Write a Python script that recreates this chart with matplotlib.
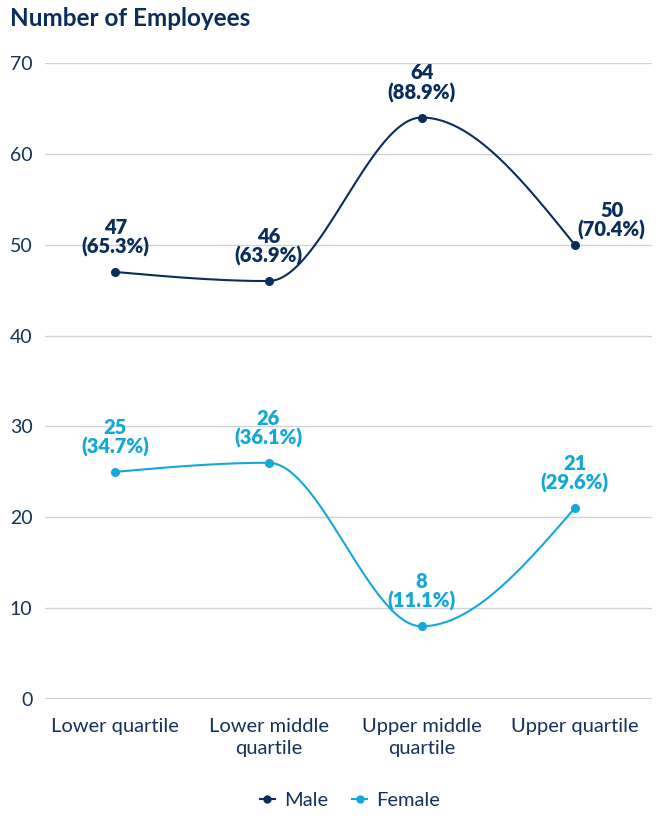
import numpy as np
import matplotlib
matplotlib.use("Agg")
import matplotlib.pyplot as plt
from matplotlib.lines import Line2D

plt.rcParams['font.family'] = ['Lato', 'DejaVu Sans']

categories = ["Lower quartile", "Lower middle\nquartile", "Upper middle\nquartile", "Upper quartile"]
male = [47, 46, 64, 50]
female = [25, 26, 8, 21]
male_pct = ["65.3%", "63.9%", "88.9%", "70.4%"]
female_pct = ["34.7%", "36.1%", "11.1%", "29.6%"]
yticks = [0, 10, 20, 30, 40, 50, 60, 70]

MALE_C = "#0b2d5c"
FEMALE_C = "#14a8d8"
TEXT_C = "#16325c"


def monotone_x(xs, ys, n=60):
    xs = np.asarray(xs, float); ys = np.asarray(ys, float)
    m = len(xs)
    h = np.diff(xs); s = np.diff(ys) / h
    t = np.zeros(m)
    for i in range(1, m - 1):
        p = (s[i-1] * h[i] + s[i] * h[i-1]) / (h[i-1] + h[i])
        t[i] = (np.sign(s[i-1]) + np.sign(s[i])) * min(abs(s[i-1]), abs(s[i]), 0.5 * abs(p))
    t[0] = (3 * s[0] - t[1]) / 2
    t[-1] = (3 * s[-1] - t[-2]) / 2
    X, Y = [], []
    u = np.linspace(0, 1, n)
    for i in range(m - 1):
        dx = h[i] / 3
        P0 = np.array([xs[i], ys[i]])
        P1 = np.array([xs[i] + dx, ys[i] + dx * t[i]])
        P2 = np.array([xs[i+1] - dx, ys[i+1] - dx * t[i+1]])
        P3 = np.array([xs[i+1], ys[i+1]])
        B = ((1-u)**3)[:, None] * P0 + (3*(1-u)**2*u)[:, None] * P1 + (3*(1-u)*u**2)[:, None] * P2 + (u**3)[:, None] * P3
        X.extend(B[:, 0]); Y.extend(B[:, 1])
    return np.array(X), np.array(Y)


fig = plt.figure(figsize=(6.69, 8.16), dpi=100)
ax = fig.add_axes([45/669, 1 - 699/816, 607/669, 636/816])

x = np.arange(len(categories))
for vals, col in [(male, MALE_C), (female, FEMALE_C)]:
    cx, cy = monotone_x(x, vals)
    ax.plot(cx, cy, color=col, lw=1.5, zorder=3, solid_capstyle='round')
    ax.plot(x, vals, 'o', color=col, ms=5.5, zorder=4)

ax.set_xlim(-0.46, 3.505)
ax.set_ylim(0, 70)
ax.set_yticks(yticks)
ax.set_yticklabels([str(v) for v in yticks], fontsize=14, color=TEXT_C)
ax.set_xticks(x)
ax.set_xticklabels(categories, fontsize=14.5, color=TEXT_C, linespacing=1.3)
ax.tick_params(axis='both', length=0)
ax.tick_params(axis='y', pad=9)
ax.tick_params(axis='x', pad=14)
for sp in ax.spines.values():
    sp.set_visible(False)
ax.grid(axis='y', color='#cfd2d6', lw=1.0)
ax.axhline(0, color='#c8cbd0', lw=2.0, zorder=1)
ax.set_axisbelow(True)

# annotations (offsets in pixels)
offsets_m = [(0, 15), (0, 15), (0, 15), (37, 5)]
offsets_f = [(0, 15), (0, 15), (0, 15), (0, 15)]
for i in range(4):
    dx, dy = offsets_m[i]
    ax.annotate(f"{male[i]}\n({male_pct[i]})", (x[i], male[i]), xytext=(dx * 0.72, dy * 0.72),
                textcoords='offset points', ha='center', va='bottom', fontsize=14.5,
                fontweight='heavy', color=MALE_C, linespacing=1.0)
    dx, dy = offsets_f[i]
    ax.annotate(f"{female[i]}\n({female_pct[i]})", (x[i], female[i]), xytext=(dx * 0.72, dy * 0.72),
                textcoords='offset points', ha='center', va='bottom', fontsize=14.5,
                fontweight='heavy', color=FEMALE_C, linespacing=1.0)

fig.text(10/669, 1 - 18/816, "Number of Employees", fontsize=17.5, fontweight='bold',
         color=MALE_C, ha='left', va='center')

handles = [Line2D([0], [0], color=MALE_C, marker='o', ms=5, lw=1.5),
           Line2D([0], [0], color=FEMALE_C, marker='o', ms=5, lw=1.5)]
fig.legend(handles, ["Male", "Female"], loc='center', bbox_to_anchor=(350/669, 1 - 800/816),
           ncol=2, frameon=False, fontsize=14.5, handlelength=0.75, handletextpad=0.45,
           columnspacing=1.2, labelcolor=TEXT_C)

fig.savefig("out.png", dpi=100)
